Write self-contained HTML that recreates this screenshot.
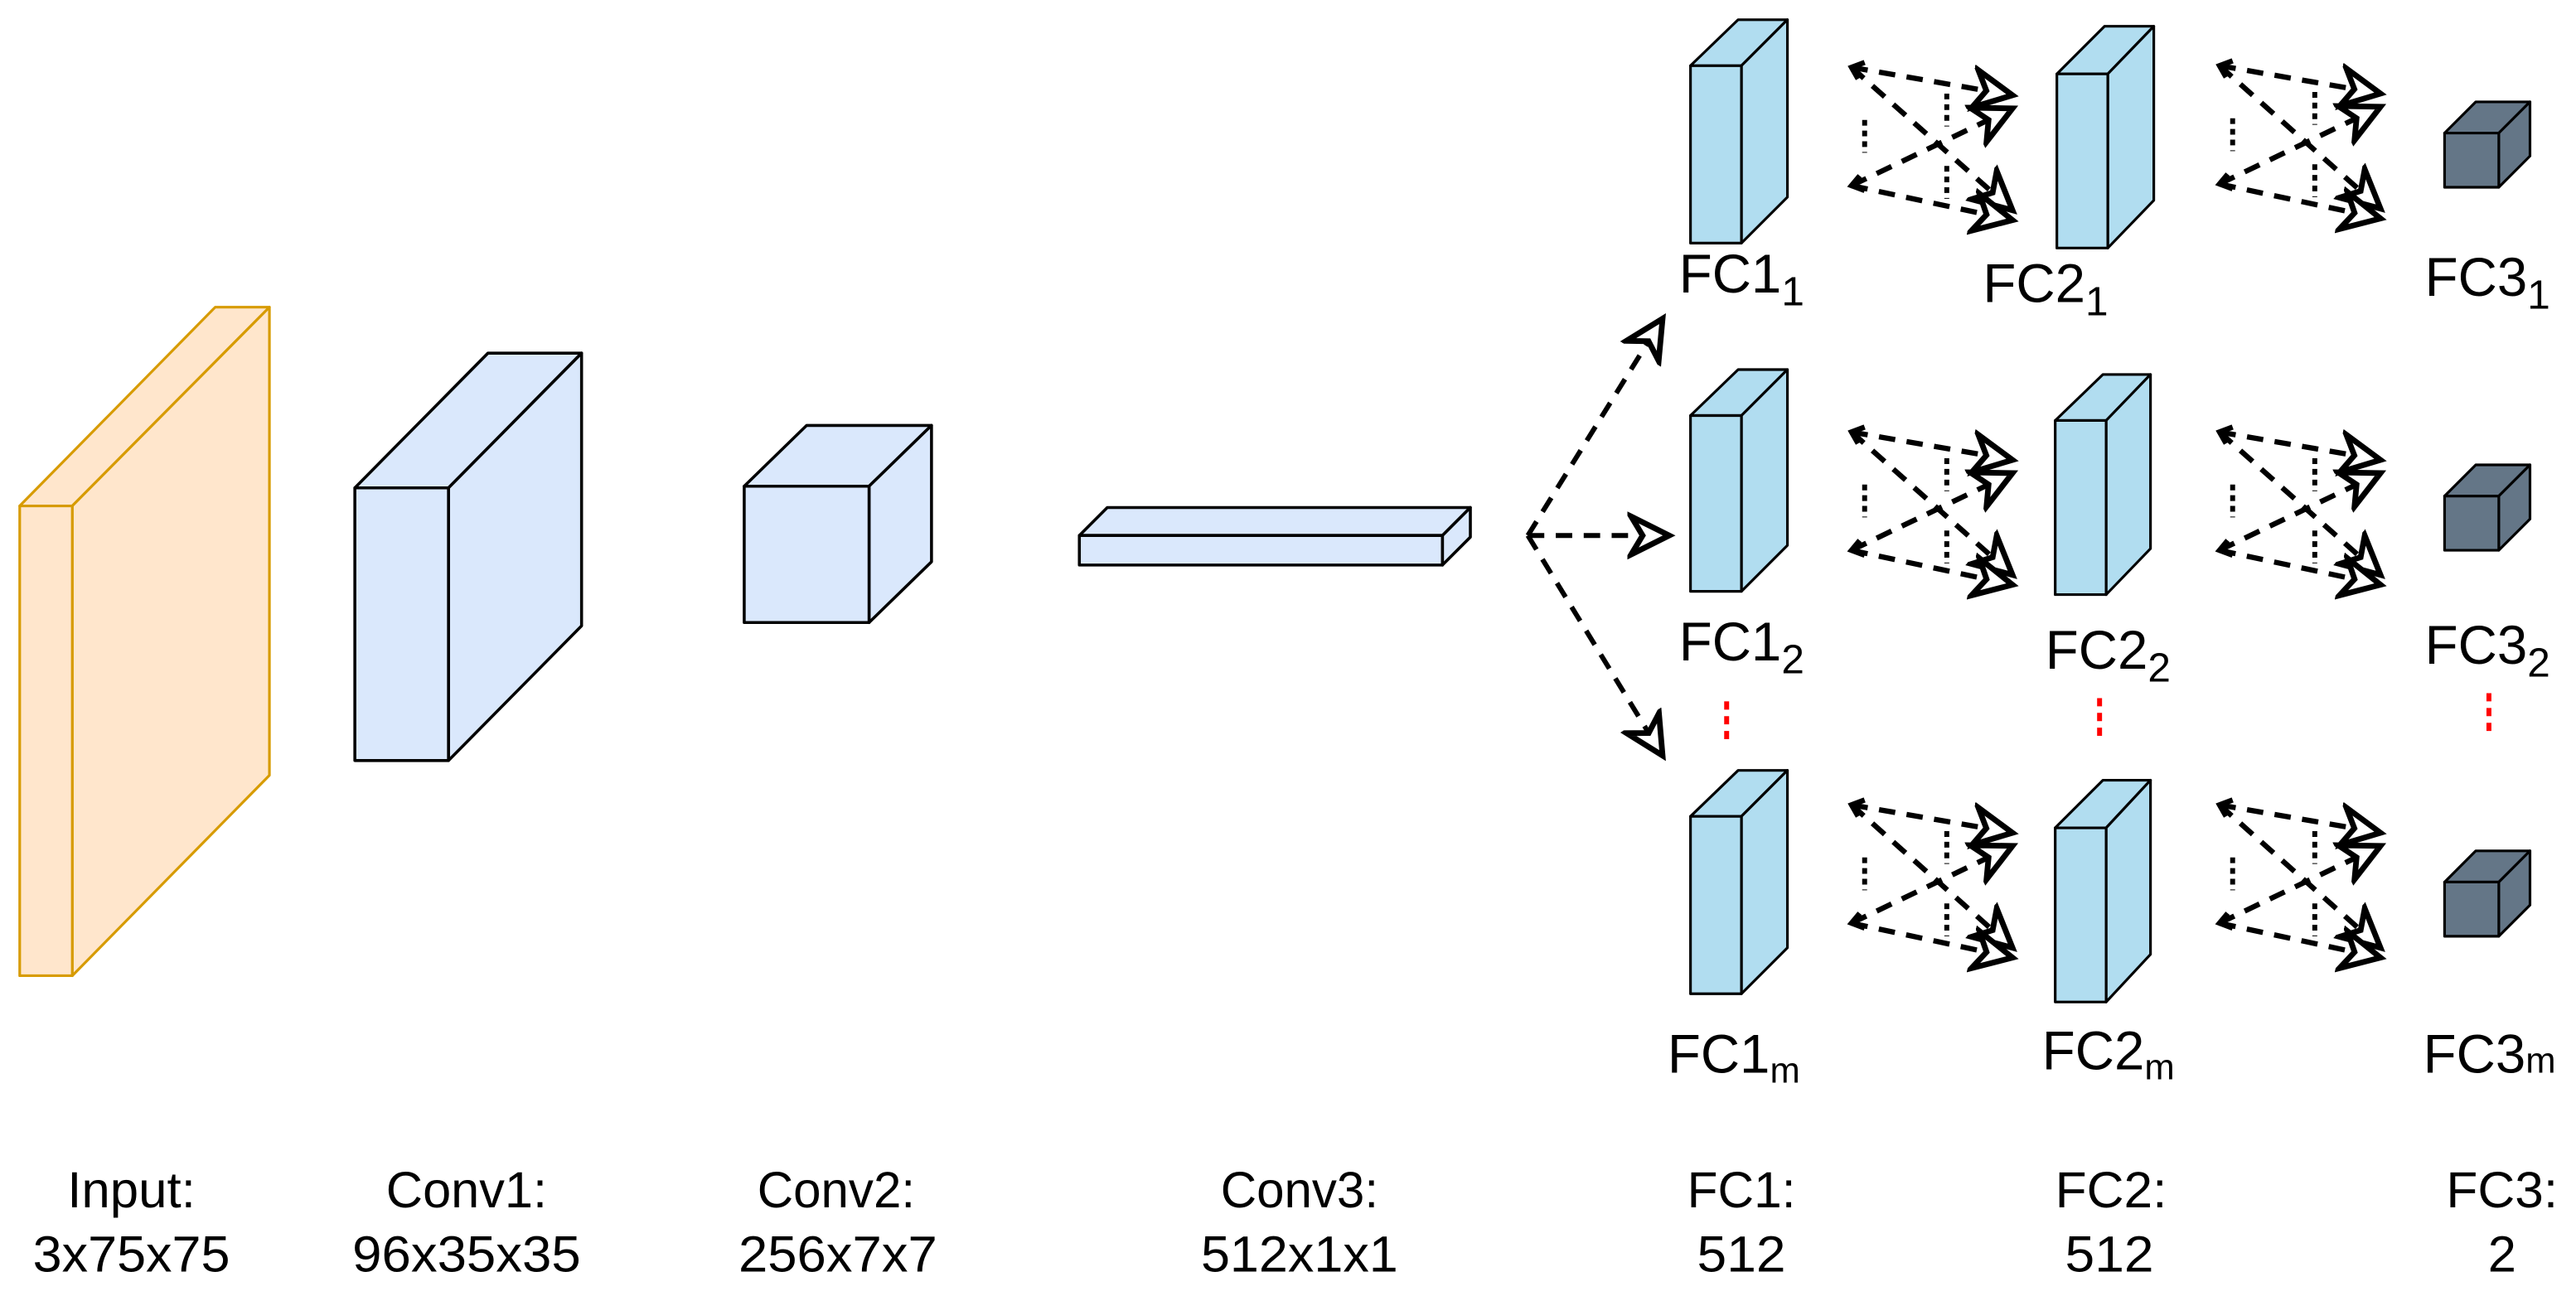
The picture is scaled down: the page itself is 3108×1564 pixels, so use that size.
<!DOCTYPE html>
<html><head><meta charset="utf-8"><style>
html,body{margin:0;padding:0;background:#fff;width:3108px;height:1564px;overflow:hidden}
svg{display:block}
text{font-family:"Liberation Sans",Arial,sans-serif;fill:#000}
</style></head><body>
<svg width="3108" height="1564" viewBox="0 0 1568 789" preserveAspectRatio="none" xmlns="http://www.w3.org/2000/svg">
<defs>
<marker id="ah" markerUnits="userSpaceOnUse" markerWidth="30" markerHeight="30" refX="22" refY="12" orient="auto" viewBox="0 0 26 24">
<path d="M2,2 L22,12 L2,22 L8,12 Z" fill="#fff" stroke="#000" stroke-width="3" stroke-linejoin="miter"/>
</marker>
<g id="cross" fill="none" stroke="#000">
<g stroke-width="3.2" stroke-dasharray="10,7" marker-end="url(#ah)">
<line x1="0" y1="0" x2="98" y2="17"/>
<line x1="0" y1="0" x2="98" y2="87"/>
<line x1="0" y1="72" x2="98" y2="25"/>
<line x1="0" y1="72" x2="98" y2="93"/>
</g>
<g stroke-width="3" stroke-dasharray="3.5,3">
<line x1="8" y1="32" x2="8" y2="52"/>
<line x1="58" y1="16" x2="58" y2="36"/>
<line x1="58" y1="60" x2="58" y2="80"/>
</g>
<polyline points="8,-3 0,0 4,7" stroke-width="3.2"/>
<polyline points="5,66 0,72 8,75" stroke-width="3.2"/>
</g>
</defs>

<g stroke="#d79b00" stroke-width="1.6" fill="#ffe6cc" stroke-linejoin="round">
<polygon points="12,308 131,187 164,187 44,308"/>
<polygon points="44,308 164,187 164,472 44,594"/>
<rect x="12" y="308" width="32" height="286"/>
</g>
<g stroke="#000" stroke-width="1.8" fill="#dae8fc" stroke-linejoin="round">
<polygon points="216,297 297,215 354,215 273,297"/>
<polygon points="273,297 354,215 354,381 273,463"/>
<rect x="216" y="297" width="57" height="166"/>
<polygon points="453,296 491,259 567,259 529,296"/>
<polygon points="529,296 567,259 567,342 529,379"/>
<rect x="453" y="296" width="76" height="83"/>
<polygon points="657,326 674,309 895,309 878,326"/>
<polygon points="878,326 895,309 895,327 878,344"/>
<rect x="657" y="326" width="221" height="18"/>
</g>

<g stroke="#000" stroke-width="1.6" fill="#b1ddf0" stroke-linejoin="round">
<g transform="translate(1029,40)"><polygon points="0,0 29,-28 59,-28 31,0"/><polygon points="31,0 59,-28 59,80 31,108"/><rect x="0" y="0" width="31" height="108"/></g>
<g transform="translate(1029,253)"><polygon points="0,0 29,-28 59,-28 31,0"/><polygon points="31,0 59,-28 59,79 31,107"/><rect x="0" y="0" width="31" height="107"/></g>
<g transform="translate(1029,497)"><polygon points="0,0 29,-28 59,-28 31,0"/><polygon points="31,0 59,-28 59,80 31,108"/><rect x="0" y="0" width="31" height="108"/></g>
<g transform="translate(1252,45)"><polygon points="0,0 29,-29 59,-29 31,0"/><polygon points="31,0 59,-29 59,77 31,106"/><rect x="0" y="0" width="31" height="106"/></g>
<g transform="translate(1251,256)"><polygon points="0,0 29,-28 58,-28 31,0"/><polygon points="31,0 58,-28 58,78 31,106"/><rect x="0" y="0" width="31" height="106"/></g>
<g transform="translate(1251,504)"><polygon points="0,0 29,-29 58,-29 31,0"/><polygon points="31,0 58,-29 58,77 31,106"/><rect x="0" y="0" width="31" height="106"/></g>
</g>
<g stroke="#000" stroke-width="1.6" fill="#647687" stroke-linejoin="round">
<g transform="translate(1488,81)"><polygon points="0,0 19,-19 52,-19 33,0"/><polygon points="33,0 52,-19 52,14 33,33"/><rect x="0" y="0" width="33" height="33"/></g>
<g transform="translate(1488,302)"><polygon points="0,0 19,-19 52,-19 33,0"/><polygon points="33,0 52,-19 52,14 33,33"/><rect x="0" y="0" width="33" height="33"/></g>
<g transform="translate(1488,537)"><polygon points="0,0 19,-19 52,-19 33,0"/><polygon points="33,0 52,-19 52,14 33,33"/><rect x="0" y="0" width="33" height="33"/></g>
</g>

<g fill="none" stroke="#000" stroke-width="3" stroke-dasharray="10,7" marker-end="url(#ah)">
<line x1="930" y1="326" x2="1012" y2="194"/>
<line x1="930" y1="326" x2="1016" y2="326"/>
<line x1="930" y1="326" x2="1012" y2="460"/>
</g>

<use href="#cross" transform="translate(1127,41)"/>
<use href="#cross" transform="translate(1127,263)"/>
<use href="#cross" transform="translate(1127,490)"/>
<use href="#cross" transform="translate(1351,40)"/>
<use href="#cross" transform="translate(1351,263)"/>
<use href="#cross" transform="translate(1351,490)"/>

<g stroke="#ff0000" stroke-width="3" stroke-dasharray="5,4">
<line x1="1051" y1="427" x2="1051" y2="451"/>
<line x1="1278" y1="425" x2="1278" y2="449"/>
<line x1="1515" y1="422" x2="1515" y2="446"/>
</g>

<g font-size="33">
<text x="1022" y="178">FC1<tspan font-size="25" dy="8">1</tspan></text>
<text x="1207" y="184">FC2<tspan font-size="25" dy="8">1</tspan></text>
<text x="1476" y="180">FC3<tspan font-size="25" dy="8">1</tspan></text>
<text x="1022" y="402">FC1<tspan font-size="25" dy="8">2</tspan></text>
<text x="1245" y="407">FC2<tspan font-size="25" dy="8">2</tspan></text>
<text x="1476" y="404">FC3<tspan font-size="25" dy="8">2</tspan></text>
<text x="1015" y="653">FC1<tspan font-size="22" dy="6">m</tspan></text>
<text x="1243" y="651">FC2<tspan font-size="22" dy="6">m</tspan></text>
<text x="1475" y="653">FC3<tspan font-size="22" dy="0">m</tspan></text>
</g>

<g font-size="31" text-anchor="middle">
<text x="80" y="735" textLength="78" lengthAdjust="spacingAndGlyphs">Input:</text>
<text x="80" y="774" textLength="120" lengthAdjust="spacingAndGlyphs">3x75x75</text>
<text x="284" y="735" textLength="98" lengthAdjust="spacingAndGlyphs">Conv1:</text>
<text x="284" y="774" textLength="139" lengthAdjust="spacingAndGlyphs">96x35x35</text>
<text x="509" y="735" textLength="96" lengthAdjust="spacingAndGlyphs">Conv2:</text>
<text x="510" y="774" textLength="121" lengthAdjust="spacingAndGlyphs">256x7x7</text>
<text x="791" y="735" textLength="96" lengthAdjust="spacingAndGlyphs">Conv3:</text>
<text x="791" y="774" textLength="120" lengthAdjust="spacingAndGlyphs">512x1x1</text>
<text x="1060" y="735" textLength="66" lengthAdjust="spacingAndGlyphs">FC1:</text>
<text x="1060" y="774" textLength="54" lengthAdjust="spacingAndGlyphs">512</text>
<text x="1285" y="735" textLength="68" lengthAdjust="spacingAndGlyphs">FC2:</text>
<text x="1284" y="774" textLength="54" lengthAdjust="spacingAndGlyphs">512</text>
<text x="1523" y="735" textLength="68" lengthAdjust="spacingAndGlyphs">FC3:</text>
<text x="1523" y="774">2</text>
</g>
</svg>
</body></html>
